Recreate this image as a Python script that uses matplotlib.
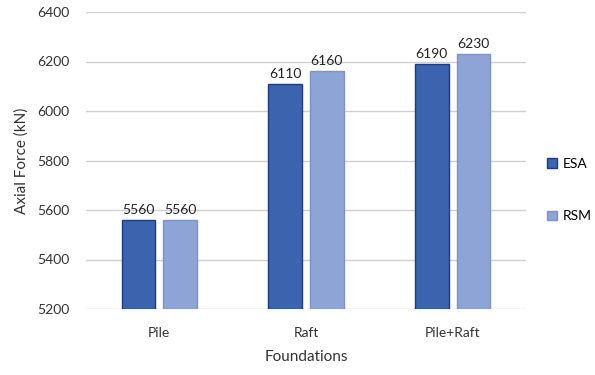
import matplotlib.pyplot as plt
import numpy as np

plt.rcParams["font.family"] = ["Lato", "DejaVu Sans"]

categories = ["Pile", "Raft", "Pile+Raft"]
esa = [5560, 6110, 6190]
rsm = [5560, 6160, 6230]

fig = plt.figure(figsize=(5.95, 3.75), dpi=100)
ax = fig.add_axes([0.1445, 0.176, 0.7395, 0.792])

x = np.arange(len(categories))
w = 0.23
gap = 0.055
b1 = ax.bar(x - (w + gap) / 2, np.array(esa) - 5200, w, bottom=5200,
            color="#3C63AE", edgecolor="#1E3C86", linewidth=1.0, label="ESA", zorder=3)
b2 = ax.bar(x + (w + gap) / 2, np.array(rsm) - 5200, w, bottom=5200,
            color="#8FA4D6", edgecolor="#7D92C6", linewidth=1.0, label="RSM", zorder=3)

for bars, vals in ((b1, esa), (b2, rsm)):
    for b, v in zip(bars, vals):
        ax.text(b.get_x() + b.get_width() / 2, v + 16, str(v),
                ha="center", va="bottom", fontsize=10, color="#222222")

ax.set_xlim(-0.5, 2.5)
ax.set_ylim(5200, 6400)
ax.set_yticks(np.arange(5200, 6401, 200))
ax.set_xticks(x)
ax.set_xticklabels(categories)
ax.grid(axis="y", color="#D0D0D0", linewidth=1.0, zorder=0)
for s in ax.spines.values():
    s.set_visible(False)
ax.tick_params(length=0, labelsize=10, colors="#333333")
ax.tick_params(axis="x", pad=13)
ax.tick_params(axis="y", pad=12)
ax.set_ylabel("Axial Force (kN)", fontsize=11, color="#333333", labelpad=6)
ax.set_xlabel("Foundations", fontsize=11, color="#333333", labelpad=8)

ax.legend(loc="center left", bbox_to_anchor=(1.02, 0.40), frameon=False,
          fontsize=10, handlelength=0.7, handleheight=0.7, handletextpad=0.4,
          labelspacing=2.9)

fig.savefig("out.png", dpi=100)
